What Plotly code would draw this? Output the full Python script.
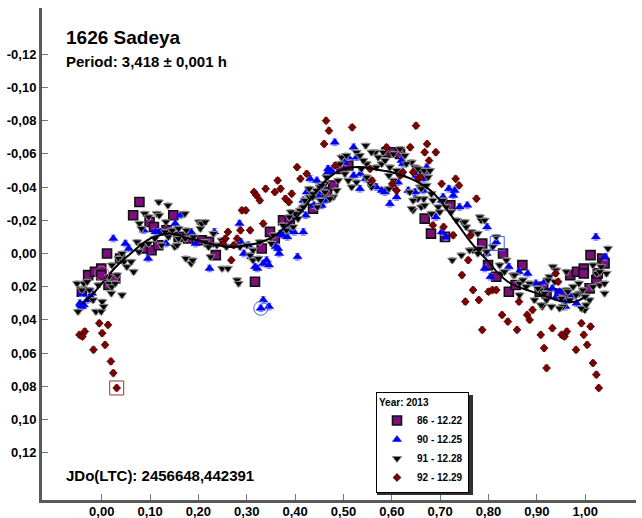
import plotly.graph_objects as go

# ---- data (phase, magnitude) ----
s86 = [(-0.041,0.023),(-0.028,0.013),(-0.014,0.011),(-0.001,0.009),(-0.001,0.013),(0.011,0.000),(0.014,0.019),
       (0.028,0.015),(0.038,0.003),(0.065,-0.023),(0.078,-0.031),(0.090,-0.003),(0.099,-0.019),(0.103,-0.002),
       (0.108,-0.016),(0.117,-0.005),(0.134,-0.014),(0.148,-0.023),(0.159,-0.010),(0.179,-0.009),(0.207,-0.008),
       (0.222,-0.007),(0.236,0.001),(0.317,0.017),(0.331,-0.003),(0.348,-0.013),(0.358,-0.009),(0.375,-0.020),
       (0.389,-0.020),(0.437,-0.027),(0.466,-0.037),(0.479,-0.041),(0.496,-0.051),(0.510,-0.053),(0.589,-0.061),
       (0.603,-0.061),(0.617,-0.060),(0.668,-0.021),(0.681,-0.012),(0.710,-0.010),(0.721,-0.029),(0.787,-0.006),
       (0.799,0.007),(0.816,0.014),(0.830,0.000),(0.842,0.023),(0.856,0.019),(0.870,0.007),(0.906,0.023),
       (0.913,0.020),(0.920,0.024),(0.947,0.024),(0.957,0.024),(0.969,0.013),(0.983,0.011),(0.997,0.009),
       (0.997,0.012),(1.009,0.021),(1.011,0.001),(1.023,0.016),(1.026,0.012),(1.035,0.003),(1.040,0.006)]

s90 = [(-0.045,0.030),(-0.041,0.032),(-0.044,0.031),(-0.037,0.031),(-0.030,0.028),(-0.042,0.024),(-0.020,0.024),
       (-0.023,0.026),(0.024,-0.009),(0.049,-0.006),(0.056,-0.003),(0.087,-0.014),(0.096,0.003),(0.111,-0.013),
       (0.121,-0.013),(0.133,-0.006),(0.152,-0.018),(0.163,-0.023),(0.185,-0.013),(0.194,-0.006),(0.223,0.009),
       (0.233,-0.013),(0.285,-0.018),(0.288,-0.007),(0.294,0.000),(0.303,-0.005),(0.309,0.002),(0.317,0.008),
       (0.322,0.009),(0.329,0.033),(0.334,0.028),(0.334,0.006),(0.341,0.004),(0.346,0.007),(0.346,0.032),
       (0.360,-0.004),(0.365,-0.003),(0.367,0.000),(0.369,-0.012),(0.375,-0.011),(0.384,-0.010),(0.386,-0.014),
       (0.396,-0.022),(0.398,-0.013),(0.405,0.002),(0.410,-0.026),(0.417,-0.013),(0.417,-0.032),(0.422,-0.023),
       (0.424,-0.037),(0.431,-0.045),(0.434,-0.034),(0.439,-0.029),(0.445,-0.044),(0.446,-0.037),(0.448,-0.035),
       (0.451,-0.029),(0.455,-0.040),(0.455,-0.029),(0.462,-0.032),(0.465,-0.048),(0.468,-0.051),(0.472,-0.049),
       (0.475,-0.050),(0.482,-0.067),(0.501,-0.055),(0.510,-0.058),(0.521,-0.064),(0.527,-0.058),(0.521,-0.047),
       (0.535,-0.048),(0.534,-0.039),(0.546,-0.045),(0.558,-0.043),(0.568,-0.040),(0.579,-0.038),(0.586,-0.037),
       (0.596,-0.030),(0.610,-0.034),(0.613,-0.043),(0.620,-0.048),(0.620,-0.056),(0.623,-0.054),(0.634,-0.038),
       (0.648,-0.037),(0.648,-0.033),(0.651,-0.047),(0.658,-0.045),(0.662,-0.049),(0.665,-0.038),(0.666,-0.045),
       (0.670,-0.049),(0.672,-0.052),(0.691,-0.022),(0.703,-0.013),(0.703,-0.032),(0.706,-0.034),(0.712,-0.010),
       (0.718,-0.039),(0.727,-0.035),(0.730,-0.038),(0.740,-0.028),(0.756,-0.029),(0.792,0.009),(0.796,0.000),
       (0.797,-0.016),(0.804,0.014),(0.816,-0.007),(0.842,0.008),(0.863,0.011),(0.881,0.012),(0.898,0.018),
       (0.916,0.017),(0.932,0.021),(0.940,0.026),(0.947,0.023),(0.955,0.028),(0.959,0.032),(0.961,0.028),
       (0.971,0.026),(0.982,0.030),(1.022,-0.010),(1.041,0.002)]

s91 = [(-0.051,0.018),(-0.049,0.035),(-0.037,0.018),(-0.030,0.017),(-0.012,0.035),(-0.007,0.019),(-0.001,0.035),
       (0.001,0.029),(0.004,0.032),(0.015,0.018),(0.020,0.024),(0.021,0.020),(0.028,0.018),(0.042,0.025),
       (-0.041,0.022),(-0.025,0.022),(-0.018,0.028),(0.015,0.014),(0.021,0.007),(0.032,0.013),(0.035,0.003),
       (0.042,0.000),(0.046,0.005),(0.052,0.008),(0.061,0.005),(0.066,0.011),(0.073,-0.007),(0.077,-0.001),
       (0.078,-0.018),(0.082,-0.015),(0.083,-0.005),(0.089,-0.024),(0.097,-0.022),(0.097,-0.006),(0.110,-0.009),
       (0.114,-0.024),(0.118,-0.031),(0.119,-0.023),(0.124,-0.005),(0.131,-0.013),(0.133,-0.019),(0.137,-0.029),
       (0.138,-0.010),(0.146,-0.014),(0.151,-0.004),(0.156,-0.005),(0.159,-0.009),(0.159,-0.015),(0.172,-0.024),
       (0.173,-0.009),(0.174,0.003),(0.175,-0.014),(0.185,0.006),(0.188,0.004),(0.190,-0.010),(0.201,-0.019),
       (0.204,-0.015),(0.207,-0.018),(0.214,-0.019),(0.214,-0.007),(0.221,-0.004),(0.225,0.002),(0.231,-0.012),
       (0.238,-0.005),(0.248,-0.008),(0.249,0.009),(0.258,-0.004),(0.261,0.009),(0.280,0.016),(0.283,0.018),
       (0.286,-0.004),(0.300,-0.005),(0.307,0.001),(0.313,-0.002),(0.313,0.004),(0.324,0.003),(0.327,-0.007),
       (0.351,-0.006),(0.355,-0.011),(0.375,-0.017),(0.382,-0.014),(0.396,-0.016),(0.406,-0.021),(0.410,-0.026),
       (0.420,-0.032),(0.430,-0.034),(0.437,-0.036),(0.444,-0.038),(0.451,-0.040),(0.462,-0.042),
       (0.546,-0.065),(0.566,-0.061),(0.572,-0.058),(0.582,-0.061),(0.603,-0.060),(0.627,-0.059),(0.641,-0.055),
       (0.648,-0.052),(0.630,-0.054),(0.658,-0.050),(0.667,-0.050),(0.675,-0.046),(0.548,-0.054),(0.541,-0.056),
       (0.496,-0.058),(0.506,-0.059),(0.527,-0.061),(0.534,-0.059),(0.493,-0.054),(0.503,-0.048),(0.510,-0.044),
       (0.517,-0.040),(0.527,-0.043),(0.489,-0.044),(0.486,-0.038),(0.479,-0.034),(0.472,-0.033),(0.462,-0.037),
       (0.465,-0.046),(0.429,-0.039),(0.436,-0.034),(0.446,-0.028),(0.453,-0.032),(0.455,-0.041),(0.417,-0.028),
       (0.400,-0.024),(0.391,-0.025),(0.388,-0.022),(0.568,-0.052),(0.579,-0.054),(0.586,-0.056),(0.594,-0.047),
       (0.603,-0.040),(0.596,-0.052),(0.610,-0.050),(0.644,-0.026),(0.661,-0.028),(0.666,-0.033),(0.637,-0.037),
       (0.658,-0.040),(0.672,-0.041),(0.594,-0.039),(0.604,-0.044),(0.558,-0.040),(0.556,-0.042),(0.548,-0.046),
       (0.537,-0.051),(0.558,-0.061),(0.617,-0.063),(0.654,-0.051),(0.679,-0.050),(0.654,-0.033),(0.641,-0.027),
       (0.644,-0.032),(0.682,-0.036),(0.685,-0.032),(0.682,-0.024),(0.706,-0.032),(0.713,-0.028),(0.723,-0.025),
       (0.747,-0.019),(0.754,-0.016),(0.765,-0.013),(0.782,-0.022),(0.785,-0.020),(0.725,0.004),(0.744,0.001),
       (0.768,-0.002),(0.782,-0.003),(0.809,-0.004),(0.823,0.007),(0.837,0.004),(0.827,0.012),(0.851,0.013),
       (0.864,0.018),(0.885,0.018),(0.906,0.022),(0.911,0.032),(0.933,0.008),(0.937,0.017),(0.961,0.022),
       (0.988,0.024),(0.999,0.034),(1.009,0.028),(1.016,0.020),(1.024,0.012),(1.033,0.008),(1.040,0.024),
       (1.044,0.012),(1.047,-0.003),(1.030,0.019),(1.000,0.026),(0.968,0.028),(0.954,0.032),(0.920,0.028),
       (0.926,0.014),(0.895,0.028),(0.661,-0.039),(0.668,-0.029),(0.696,-0.028),(0.699,-0.025),(0.734,-0.020),
       (0.751,-0.019),(0.778,-0.012),(0.792,-0.020),(0.816,-0.010),(0.761,-0.002),(0.778,0.000),(0.796,-0.001),
       (0.833,0.011),(0.854,0.013),(0.871,0.016),(0.902,0.021),(0.916,0.024),(0.909,0.031),(0.930,0.032),
       (0.947,0.033),(0.951,0.027),(0.964,0.023),(0.975,0.020),(0.987,0.018),(0.995,0.022),(0.992,0.033),
       (1.002,0.031),(1.016,0.007),(1.030,0.011),(1.040,0.018),(0.940,0.010),(0.923,0.016),(0.961,0.011),
       (0.981,0.025),(0.878,0.020),(0.864,0.025)]

s92 = [(-0.046,0.049),(-0.040,0.050),(-0.035,0.047),(-0.005,0.042),(0.013,0.043),(0.001,0.048),(0.007,0.055),
       (-0.017,0.058),(0.019,0.065),(0.024,0.072),(0.031,0.081),
       (0.251,-0.006),(0.256,-0.009),(0.261,-0.013),(0.268,0.004),(0.273,-0.005),(0.280,-0.009),(0.287,-0.014),
       (0.290,-0.026),(0.298,-0.026),(0.307,-0.014),(0.315,-0.037),(0.320,-0.035),(0.327,-0.032),(0.334,-0.018),
       (0.339,-0.039),(0.358,-0.037),(0.364,-0.044),(0.370,-0.039),(0.380,-0.033),(0.387,-0.031),(0.393,-0.036),
       (0.404,-0.052),(0.411,-0.045),(0.424,-0.048),(0.460,-0.066),(0.464,-0.080),(0.470,-0.074),(0.483,-0.053),
       (0.518,-0.076),(0.555,-0.051),(0.559,-0.044),(0.589,-0.064),(0.601,-0.042),(0.610,-0.038),(0.617,-0.047),
       (0.623,-0.049),(0.638,-0.064),(0.644,-0.049),(0.650,-0.077),(0.655,-0.045),(0.659,-0.046),(0.668,-0.061),
       (0.673,-0.066),(0.677,-0.056),(0.685,-0.017),(0.691,-0.061),(0.703,-0.042),(0.707,-0.016),(0.727,-0.011),
       (0.732,-0.045),(0.739,-0.041),(0.745,0.013),(0.752,0.029),(0.758,0.004),(0.763,-0.011),(0.768,0.022),
       (0.775,-0.033),(0.780,0.028),(0.787,0.046),(0.800,0.023),(0.808,0.022),(0.816,0.022),(0.828,0.037),
       (0.840,0.041),(0.859,0.046),(0.863,0.029),(0.880,0.037),(0.885,0.040),(0.891,0.034),(0.908,0.049),
       (0.915,0.057),(0.920,0.069),(0.932,0.045),(0.939,0.012),(0.944,0.017),(0.951,0.049),(0.957,0.050),
       (0.962,0.047),(0.981,0.058),(0.992,0.042),(0.997,0.049),(1.004,0.055),(1.011,0.044),(1.016,0.066),
       (1.023,0.073),(1.028,0.081)]

# fitted Fourier curve
fit_phase = [-0.04,-0.02,0.00,0.02,0.04,0.06,0.08,0.10,0.12,0.14,0.16,0.18,0.20,0.22,0.24,0.26,0.28,0.30,
             0.32,0.34,0.36,0.38,0.40,0.42,0.44,0.46,0.48,0.50,0.52,0.54,0.56,0.58,0.60,0.62,0.64,0.66,
             0.68,0.70,0.72,0.74,0.76,0.78,0.80,0.82,0.84,0.86,0.88,0.90,0.92,0.94,0.96,0.98,1.00]
fit_mag = [0.030,0.025,0.018,0.011,0.005,0.000,-0.005,-0.009,-0.011,-0.012,-0.011,-0.009,-0.008,-0.006,
           -0.005,-0.004,-0.004,-0.005,-0.006,-0.008,-0.011,-0.016,-0.021,-0.028,-0.036,-0.043,-0.048,-0.051,
           -0.052,-0.052,-0.051,-0.050,-0.049,-0.047,-0.045,-0.042,-0.038,-0.032,-0.024,-0.016,-0.008,-0.001,
           0.005,0.012,0.017,0.020,0.022,0.024,0.026,0.028,0.029,0.029,0.026]

# highlighted (rejected) points drawn as open markers
marked = [(0.031,0.081,"square-open","#a03030"),(0.329,0.033,"circle-open","#4060ff"),
          (0.818,-0.006,"square-open","#4060ff"),(0.000,0.012,"circle-open","#c050c0")]

err86, err90, err91, err92 = 0.0022, 0.0020, 0.0015, 0.0018

x_ticks = [0.0,0.1,0.2,0.3,0.4,0.5,0.6,0.7,0.8,0.9,1.0]
x_labels = ["0,00","0,10","0,20","0,30","0,40","0,50","0,60","0,70","0,80","0,90","1,00"]
y_ticks = [-0.12,-0.10,-0.08,-0.06,-0.04,-0.02,0.0,0.02,0.04,0.06,0.08,0.10,0.12]
y_labels = ["-0,12","-0,10","-0,08","-0,06","-0,04","-0,02","0,00","0,02","0,04","0,06","0,08","0,10","0,12"]

FONT = "Liberation Sans"
fig = go.Figure()

def add_series(data, name, symbol, color, lcolor, lwidth, size, err, ecolor):
    fig.add_trace(go.Scatter(
        x=[p[0] for p in data], y=[p[1] for p in data], mode="markers", name=name,
        marker=dict(symbol=symbol, color=color, size=size, line=dict(color=lcolor, width=lwidth)),
        error_y=dict(type="constant", value=err, color=ecolor, thickness=1, width=2.5)))

add_series(s86, "86 - 12.22", "square", "#7d0f7d", "#111111", 1.6, 9, err86, "#c060c0")
add_series(s90, "90 - 12.25", "triangle-up", "#0000f0", "#0000f0", 0.5, 8, err90, "#7080ff")
add_series(s91, "91 - 12.28", "triangle-down", "#000000", "#888888", 1, 8, err91, "#999999")
add_series(s92, "92 - 12.29", "diamond", "#800000", "#300000", 0.8, 6, err92, "#d08888")

fig.add_trace(go.Scatter(x=fit_phase, y=fit_mag, mode="lines", line=dict(color="black", width=2, shape="spline"),
                         showlegend=False, hoverinfo="skip"))

for mx, my, sym, col in marked:
    fig.add_trace(go.Scatter(x=[mx], y=[my], mode="markers", showlegend=False,
                             marker=dict(symbol=sym, size=14, color=col, line=dict(color=col, width=1))))

xr = [-0.1235, 1.105]
yr = [0.1485, -0.1479]
tickfont = dict(family=FONT, size=13, color="black", weight="bold")

fig.update_layout(
    width=642, height=518,
    margin=dict(l=42, r=6, t=8, b=18, autoexpand=False),
    paper_bgcolor="white", plot_bgcolor="white",
    showlegend=True,
    legend=dict(x=0.5623, y=0.2195, xanchor="left", yanchor="top",
                bgcolor="white", bordercolor="black", borderwidth=1,
                font=dict(family=FONT, size=10, color="black", weight="bold"),
                title=dict(text="Year: 2013", font=dict(family=FONT, size=10, color="black", weight="bold")),
                tracegroupgap=0, itemwidth=30),
    # drop shadow behind the legend box
    shapes=[dict(type="rect", xref="paper", yref="paper", x0=0.5640, x1=0.7256, y0=0.0102, y1=0.2134,
                 fillcolor="#303030", line=dict(width=0), layer="above")],
    xaxis=dict(range=xr, tickvals=x_ticks, ticktext=x_labels, ticks="inside", ticklen=6,
               tickcolor="#777777", tickwidth=1, showline=True, linecolor="#5a5a5a", linewidth=3,
               showgrid=False, zeroline=False, tickfont=tickfont, automargin=False, ticklabelstandoff=-3),
    yaxis=dict(range=yr, tickvals=y_ticks, ticktext=y_labels, ticks="inside", ticklen=6,
               tickcolor="#777777", tickwidth=1, showline=True, linecolor="#5a5a5a", linewidth=3,
               showgrid=False, zeroline=False, tickfont=tickfont, automargin=False),
    xaxis2=dict(range=xr, overlaying="x", side="top", anchor="y", tickvals=x_ticks, ticks="inside",
                ticklen=6, tickcolor="#777777", showticklabels=False, showline=True, linecolor="black",
                linewidth=1, showgrid=False, zeroline=False),
    yaxis2=dict(range=yr, overlaying="y", side="right", anchor="x", tickvals=y_ticks, ticks="inside",
                ticklen=6, tickcolor="#777777", showticklabels=False, showline=True, linecolor="black",
                linewidth=1, showgrid=False, zeroline=False),
    annotations=[
        dict(text="1626 Sadeya", xref="paper", yref="paper", x=0.037, y=0.941, xanchor="left",
             yanchor="middle", showarrow=False, font=dict(family=FONT, size=19, color="black", weight="bold")),
        dict(text="Period: 3,418 ± 0,001 h", xref="paper", yref="paper", x=0.037, y=0.892, xanchor="left",
             yanchor="middle", showarrow=False, font=dict(family=FONT, size=15, color="black", weight="bold")),
        dict(text="JDo(LTC): 2456648,442391", xref="paper", yref="paper", x=0.037, y=0.0488, xanchor="left",
             yanchor="middle", showarrow=False, font=dict(family=FONT, size=15, color="black", weight="bold")),
    ],
)

fig.write_html("out.html", post_script="document.body.style.margin='0';",
               config={"displayModeBar": False})
